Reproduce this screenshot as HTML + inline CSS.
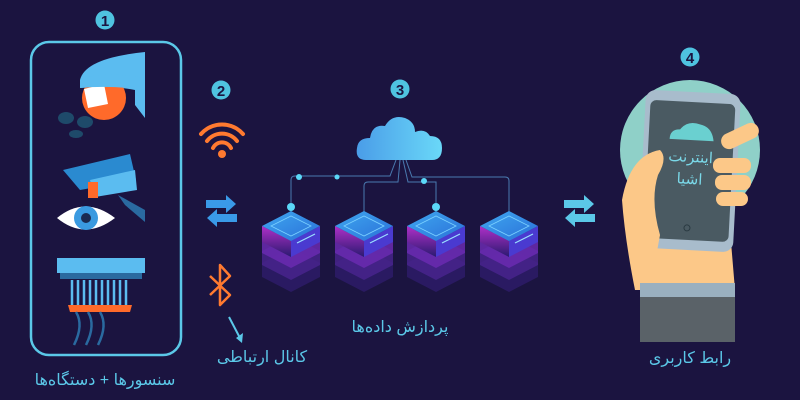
<!DOCTYPE html>
<html><head><meta charset="utf-8"><style>
html,body{margin:0;padding:0;background:#1b1440;}
svg{display:block}
text{font-family:"Liberation Sans","DejaVu Sans",sans-serif;}
</style></head><body>
<svg width="800" height="400" viewBox="0 0 800 400" xmlns="http://www.w3.org/2000/svg">
<defs>
<linearGradient id="cl" x1="0" x2="1"><stop offset="0" stop-color="#4a9de8"/><stop offset="1" stop-color="#6ad8f8"/></linearGradient>
<linearGradient id="top" x1="0" x2="1" y1="0" y2="1"><stop offset="0" stop-color="#3fa8f0"/><stop offset="1" stop-color="#2a6fd8"/></linearGradient>
<linearGradient id="side" x1="0" x2="0" y1="0" y2="1"><stop offset="0" stop-color="#b030c8"/><stop offset="1" stop-color="#2a1a70"/></linearGradient>
<g id="srv">
 <path d="M-29 52 L0 37 L29 52 L29 66 L0 81 L-29 66Z" fill="#2e1c6a" opacity="0.8"/>
 <path d="M-29 40 L0 25 L29 40 L29 54 L0 69 L-29 54Z" fill="#4a2490" opacity="0.8"/>
 <path d="M-29 28 L0 13 L29 28 L29 42 L0 57 L-29 42Z" fill="#6a2ab0" opacity="0.85"/>
 <path d="M-29 15 L0 30 L0 46 L-29 31Z" fill="url(#side)"/>
 <path d="M29 15 L0 30 L0 46 L29 31Z" fill="#4a3ad0"/>
 <path d="M-29 15 L0 0 L29 15 L0 30Z" fill="url(#top)"/>
 <path d="M-20 15 L0 5 L20 15 L0 25Z" fill="none" stroke="#7ad0ff" stroke-width="0.8"/>
 <line x1="6" y1="32" x2="24" y2="23" stroke="#9ae0ff" stroke-width="1.2"/>
</g>
<g id="num"><circle r="9.5" fill="#4fc3e0"/></g>
</defs>
<rect width="800" height="400" fill="#1b1440"/>

<use href="#num" x="105" y="20"/><text x="105" y="26" text-anchor="middle" font-size="15" font-weight="bold" fill="#1b1440" font-family="Liberation Serif,serif">1</text>
<use href="#num" x="221" y="90"/><text x="221" y="96" text-anchor="middle" font-size="15" font-weight="bold" fill="#1b1440" font-family="Liberation Serif,serif">2</text>
<use href="#num" x="400" y="89"/><text x="400" y="95" text-anchor="middle" font-size="15" font-weight="bold" fill="#1b1440" font-family="Liberation Serif,serif">3</text>
<use href="#num" x="690" y="57"/><text x="690" y="63" text-anchor="middle" font-size="15" font-weight="bold" fill="#1b1440" font-family="Liberation Serif,serif">4</text>

<rect x="31" y="42" width="150" height="313" rx="18" fill="none" stroke="#5bc8e8" stroke-width="2.5"/>
<path d="M80 80 Q85 58 145 52 L145 118 L135 105 L135 90 Q110 85 80 88Z" fill="#5bbcf0"/>
<circle cx="104" cy="98" r="22" fill="#ff6a2a"/>
<path d="M84 89 L104 84 L108 104 L88 108Z" fill="#fff"/>
<path d="M80 80 Q100 70 145 78 L145 90 Q110 85 80 88Z" fill="#5bbcf0"/>
<ellipse cx="66" cy="118" rx="8" ry="6" fill="#1e4a6a"/><ellipse cx="85" cy="122" rx="8" ry="6" fill="#1e4a6a"/><ellipse cx="76" cy="134" rx="7" ry="4" fill="#1e4a6a"/>
<path d="M63 170 L130 154 L136 180 L80 190Z" fill="#2a8ad0"/>
<path d="M90 180 L135 170 L137 190 L95 197Z" fill="#5bbcf0"/>
<rect x="88" y="182" width="10" height="16" fill="#ff6a2a"/>
<path d="M118 195 L145 210 L145 222 L125 205Z" fill="#2a6aa0"/>
<path d="M57 218 Q85 195 115 218 Q85 241 57 218Z" fill="#fff"/>
<circle cx="86" cy="218" r="12" fill="#3a9ae0"/><circle cx="86" cy="218" r="5" fill="#1b2a50"/>
<rect x="57" y="258" width="88" height="15" fill="#5bbcf0"/>
<rect x="60" y="273" width="82" height="6" fill="#2a6aa0"/>
<g stroke="#5bbcf0" stroke-width="2.5"><line x1="72" y1="280" x2="72" y2="305"/><line x1="78" y1="280" x2="78" y2="305"/><line x1="84" y1="280" x2="84" y2="305"/><line x1="90" y1="280" x2="90" y2="305"/><line x1="96" y1="280" x2="96" y2="305"/><line x1="102" y1="280" x2="102" y2="305"/><line x1="108" y1="280" x2="108" y2="305"/><line x1="114" y1="280" x2="114" y2="305"/><line x1="120" y1="280" x2="120" y2="305"/><line x1="126" y1="280" x2="126" y2="305"/></g>
<path d="M68 305 L132 305 L130 312 L70 312Z" fill="#ff6a2a"/>
<g stroke="#2a6aa0" stroke-width="2.5" fill="none"><path d="M76 312 Q84 325 74 345"/><path d="M88 312 Q96 325 86 345"/><path d="M100 312 Q108 325 98 345"/></g>
<text x="105" y="385" text-anchor="middle" font-size="16" fill="#5bc8e8" direction="rtl">سنسورها + دستگاه‌ها</text>

<g fill="none" stroke="#ff7a30" stroke-width="4" stroke-linecap="round">
<path d="M201 134 A28 28 0 0 1 243 134"/><path d="M207 141 A19 19 0 0 1 237 141"/><path d="M213 148 A10 10 0 0 1 231 148"/></g>
<circle cx="222" cy="154" r="4" fill="#ff7a30"/>
<path d="M206 200 L226 200 L226 195 L236 204 L226 213 L226 208 L206 208Z" fill="#3a9ae8"/>
<path d="M237 214 L217 214 L217 209 L207 218 L217 227 L217 222 L237 222Z" fill="#3a9ae8"/>
<path d="M210 276 L230 295 L220 305 L220 265 L230 276 L210 295" fill="none" stroke="#ff7a30" stroke-width="2.5" stroke-linejoin="round"/>
<path d="M229 317 L240 338" stroke="#5bc8e8" stroke-width="2"/><path d="M236 338 L242 343 L243 333Z" fill="#5bc8e8"/>
<text x="262" y="362" text-anchor="middle" font-size="16" fill="#5bc8e8" direction="rtl">کانال ارتباطی</text>

<g stroke="#4a7ab0" stroke-width="1" fill="none">
<path d="M291 218 L291 180 Q291 176 295 176 L390 176 L396 160"/>
<path d="M364 218 L364 186 Q364 182 368 182 L398 182 L400 160"/>
<path d="M436 218 L436 182 L408 182 L403 160"/>
<path d="M509 218 L509 181 Q509 177 505 177 L412 177 L406 160"/>
</g>
<g fill="#5bd8f8"><circle cx="291" cy="207" r="4"/><circle cx="436" cy="207" r="4"/><circle cx="299" cy="177" r="3"/><circle cx="337" cy="177" r="2.5"/><circle cx="424" cy="181" r="3"/></g>
<path d="M366 160 Q355 160 357 148 Q358 138 370 138 Q372 124 385 126 Q392 114 405 118 Q415 122 415 132 Q425 128 430 136 Q442 136 442 148 Q442 160 432 160Z" fill="url(#cl)"/>
<use href="#srv" x="291" y="211"/><use href="#srv" x="364" y="211"/><use href="#srv" x="436" y="211"/><use href="#srv" x="509" y="211"/>
<text x="400" y="332" text-anchor="middle" font-size="16" fill="#5bc8e8" direction="rtl">پردازش داده‌ها</text>

<path d="M564 200 L584 200 L584 195 L594 204 L584 213 L584 208 L564 208Z" fill="#5bc8e8"/>
<path d="M595 214 L575 214 L575 209 L565 218 L575 227 L575 222 L595 222Z" fill="#5bc8e8"/>

<circle cx="690" cy="150" r="70" fill="#8fd0c8"/>
<path d="M648 290 L735 290 L730 230 L720 215 L660 205 L648 240Z" fill="#fcc888"/>
<g transform="rotate(3 690 170)">
<rect x="642" y="92" width="95" height="158" rx="10" fill="#a8bccc"/>
<rect x="647" y="102" width="85" height="138" rx="6" fill="#4a5a62"/>
<circle cx="690" cy="228" r="3" fill="none" stroke="#2a3a42"/>
<path d="M668 140 Q668 130 678 130 Q685 120 698 124 Q710 126 712 140Z" fill="#6ad0d0"/>
<text x="690" y="162" text-anchor="middle" font-size="15" fill="#7ad8e8" direction="rtl">اینترنت</text>
<text x="690" y="184" text-anchor="middle" font-size="15" fill="#7ad8e8" direction="rtl">اشیا</text>
</g>
<path d="M622 200 Q630 155 660 150 Q668 158 658 175 Q650 200 660 235 L650 290 L635 290 Q625 240 622 200Z" fill="#fcc888"/>
<rect x="720" y="128" width="40" height="16" rx="8" transform="rotate(-25 740 136)" fill="#fcc888"/>
<rect x="713" y="158" width="38" height="15" rx="7" fill="#fcc888"/>
<rect x="715" y="175" width="36" height="15" rx="7" fill="#fcc888"/>
<rect x="716" y="192" width="32" height="14" rx="7" fill="#fcc888"/>
<rect x="640" y="283" width="95" height="14" fill="#9ab0c0"/>
<rect x="640" y="297" width="95" height="45" fill="#5a6268"/>
<text x="690" y="363" text-anchor="middle" font-size="16" fill="#5bc8e8" direction="rtl">رابط کاربری</text>
</svg>
</body></html>
